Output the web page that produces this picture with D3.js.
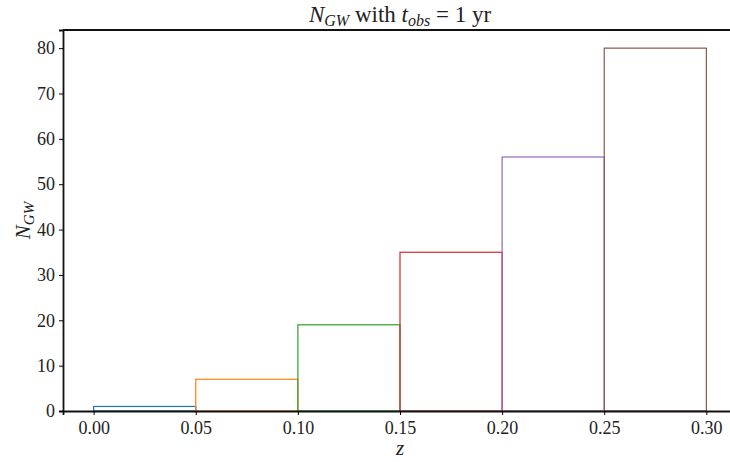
<html>
<head>
<style>
  body { margin: 0; background: #fff; }
  svg { display: block; font-family: "Liberation Serif", "DejaVu Serif", serif; }
  .tick text { font-size: 18px; fill: #222; }
</style>
<script src="https://d3js.org/d3.v7.min.js"></script>
</head>
<body>
<svg id="chart"></svg>
<script>

// redshift bin edges and event counts per bin
let binStart = [0.00, 0.05, 0.10, 0.15, 0.20, 0.25]
let binEnd = [0.05, 0.10, 0.15, 0.20, 0.25, 0.30]
let counts = [1, 7, 19, 35, 56, 80]
let binColors = ["#1f77b4", "#ff7f0e", "#2ca02c", "#d62728", "#9467bd", "#8c564b"]
let xTicks = [0.00, 0.05, 0.10, 0.15, 0.20, 0.25, 0.30]
let yTicks = [0, 10, 20, 30, 40, 50, 60, 70, 80]

let width = 730, height = 462
let margin = {left: 63, right: -7, top: 30, bottom: 51}
let serif = "'Liberation Serif', 'DejaVu Serif', serif"

let svg = d3.select("#chart").attr("width", width).attr("height", height)

let x = d3.scaleLinear().domain([-0.015, 0.315])
  .range([margin.left, width - margin.right])
let y = d3.scaleLinear().domain([0, 84])
  .range([height - margin.bottom, margin.top])

let bars = binStart.map((s, i) => ({s, e: binEnd[i], n: counts[i], c: binColors[i]}))

svg.append("g").selectAll("rect").data(bars).enter().append("rect")
  .attr("x", d => x(d.s))
  .attr("y", d => y(d.n))
  .attr("width", d => x(d.e) - x(d.s))
  .attr("height", d => y(0) - y(d.n))
  .attr("fill", "none")
  .attr("stroke", d => d.c)
  .attr("stroke-width", 1.2)

let xAxis = svg.append("g")
  .attr("transform", `translate(0,${y(0)})`)
  .call(d3.axisBottom(x).tickValues(xTicks).tickFormat(d3.format(".2f")).tickSizeOuter(0).tickSize(4).tickPadding(6))
let yAxis = svg.append("g")
  .attr("transform", `translate(${margin.left},0)`)
  .call(d3.axisLeft(y).tickValues(yTicks).tickSizeOuter(0).tickSize(4).tickPadding(4))

for (let ax of [xAxis, yAxis]) {
  ax.attr("font-family", serif).attr("font-size", 18)
  ax.select(".domain").attr("stroke", "#111").attr("stroke-width", 1.8)
}

// top spine
svg.append("line")
  .attr("x1", margin.left).attr("x2", width)
  .attr("y1", y(84)).attr("y2", y(84))
  .attr("stroke", "#111").attr("stroke-width", 1.8)

// title
let title = svg.append("text")
  .attr("x", (margin.left + width - margin.right) / 2).attr("y", 22)
  .attr("text-anchor", "middle").attr("font-size", 23).attr("fill", "#222")
title.append("tspan").attr("font-style", "italic").text("N")
title.append("tspan").attr("font-style", "italic").attr("font-size", 16).attr("dy", 4).text("GW")
title.append("tspan").attr("dy", -4).text(" with ")
title.append("tspan").attr("font-style", "italic").text("t")
title.append("tspan").attr("font-style", "italic").attr("font-size", 16).attr("dy", 4).text("obs")
title.append("tspan").attr("dy", -4).text(" = 1 yr")

// axis labels
svg.append("text")
  .attr("x", (margin.left + width - margin.right) / 2).attr("y", 455)
  .attr("text-anchor", "middle").attr("font-size", 21).attr("font-style", "italic")
  .attr("fill", "#222").text("z")

let yl = svg.append("text")
  .attr("transform", `translate(30,${(y(0) + y(84)) / 2}) rotate(-90)`)
  .attr("text-anchor", "middle").attr("font-size", 21).attr("fill", "#222")
yl.append("tspan").attr("font-style", "italic").text("N")
yl.append("tspan").attr("font-style", "italic").attr("font-size", 15).attr("dy", 4).text("GW")

</script>
</body>
</html>
